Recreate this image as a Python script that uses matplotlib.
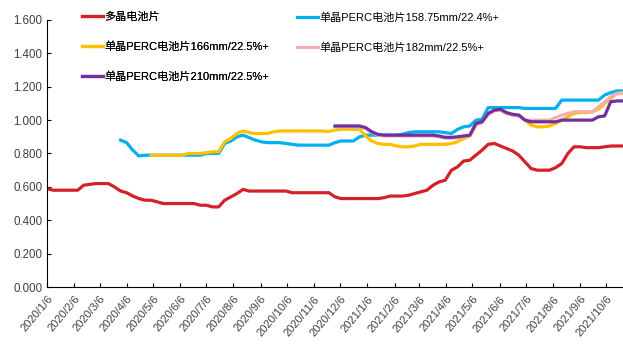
import numpy as np
import pandas as pd
import matplotlib
matplotlib.use("Agg")
import matplotlib.pyplot as plt

plt.rcParams['font.family'] = ['Liberation Sans', 'Noto Sans CJK SC', 'DejaVu Sans']

# weekly dates (95 weeks from 2020/1/6)
dates = pd.date_range('2020-01-06', periods=95, freq='7D')
nan = np.nan

# 多晶电池片
poly = [0.59, 0.58, 0.58, 0.58, 0.58, 0.58, 0.61, 0.615, 0.62, 0.62,
        0.62, 0.60, 0.575, 0.565, 0.545, 0.53, 0.52, 0.52, 0.51, 0.50,
        0.50, 0.50, 0.50, 0.50, 0.50, 0.49, 0.49, 0.48, 0.48, 0.52,
        0.54, 0.56, 0.585, 0.575, 0.575, 0.575, 0.575, 0.575, 0.575, 0.575,
        0.565, 0.565, 0.565, 0.565, 0.565, 0.565, 0.565, 0.54, 0.53, 0.53,
        0.53, 0.53, 0.53, 0.53, 0.53, 0.535, 0.545, 0.545, 0.545, 0.55,
        0.56, 0.57, 0.58, 0.61, 0.63, 0.64, 0.70, 0.72, 0.755, 0.76,
        0.79, 0.82, 0.855, 0.86, 0.845, 0.83, 0.815, 0.79, 0.75, 0.71,
        0.70, 0.70, 0.70, 0.715, 0.74, 0.80, 0.84, 0.84, 0.835, 0.835,
        0.835, 0.84, 0.845, 0.845, 0.845]

# 单晶PERC电池片158.75mm/22.4%+
mono158 = [nan] * 12 + [
        0.88, 0.865, 0.82, 0.785, 0.79, 0.79, 0.79, 0.79, 0.79, 0.79,
        0.79, 0.79, 0.79, 0.79, 0.80, 0.80, 0.80, 0.86, 0.875, 0.90,
        0.91, 0.895, 0.88, 0.87, 0.865, 0.865, 0.865, 0.86, 0.855, 0.85,
        0.85, 0.85, 0.85, 0.85, 0.85, 0.865, 0.875, 0.875, 0.875, 0.90,
        0.91, 0.91, 0.91, 0.91, 0.91, 0.91, 0.915, 0.925, 0.93, 0.93,
        0.93, 0.93, 0.93, 0.925, 0.92, 0.945, 0.96, 0.965, 1.00, 1.005,
        1.075, 1.075, 1.075, 1.075, 1.075, 1.075, 1.07, 1.07, 1.07, 1.07,
        1.07, 1.07, 1.12, 1.12, 1.12, 1.12, 1.12, 1.12, 1.12, 1.15,
        1.165, 1.175, 1.175]

# 单晶PERC电池片166mm/22.5%+
mono166 = [nan] * 17 + [
        0.79, 0.79, 0.79, 0.79, 0.79, 0.79, 0.80, 0.80, 0.80, 0.805,
        0.81, 0.81, 0.87, 0.89, 0.92, 0.935, 0.925, 0.92, 0.92, 0.92,
        0.93, 0.935, 0.935, 0.935, 0.935, 0.935, 0.935, 0.935, 0.935, 0.932,
        0.94, 0.945, 0.945, 0.945, 0.945, 0.905, 0.875, 0.86, 0.855, 0.855,
        0.845, 0.84, 0.84, 0.845, 0.855, 0.855, 0.855, 0.855, 0.855, 0.86,
        0.87, 0.89, 0.905, 0.97, 0.99, 1.04, 1.06, 1.06, 1.04, 1.03,
        1.03, 1.00, 0.97, 0.96, 0.96, 0.965, 0.98, 1.00, 1.02, 1.04,
        1.045, 1.045, 1.05, 1.065, 1.10, 1.13, 1.16, 1.16]

# 单晶PERC电池片182mm/22.5%+
mono182 = [nan] * 47 + [
        0.96, 0.96, 0.96, 0.96, 0.96, 0.95, 0.925, 0.91, 0.905, 0.905,
        0.905, 0.905, 0.905, 0.905, 0.905, 0.905, 0.905, 0.90, 0.892, 0.892,
        0.895, 0.90, 0.905, 0.975, 0.985, 1.035, 1.055, 1.06, 1.04, 1.03,
        1.025, 1.00, 1.00, 1.00, 1.00, 1.00, 1.015, 1.03, 1.04, 1.05,
        1.05, 1.05, 1.05, 1.08, 1.11, 1.14, 1.16, 1.165]

# 单晶PERC电池片210mm/22.5%+
mono210 = [nan] * 47 + [
        0.965, 0.965, 0.965, 0.965, 0.965, 0.955, 0.93, 0.915, 0.91, 0.91,
        0.91, 0.91, 0.91, 0.91, 0.91, 0.91, 0.91, 0.905, 0.897, 0.897,
        0.90, 0.905, 0.91, 0.98, 0.99, 1.04, 1.06, 1.065, 1.045, 1.035,
        1.03, 1.00, 0.99, 0.99, 0.99, 0.99, 0.99, 1.00, 1.00, 1.00,
        1.00, 1.00, 1.00, 1.02, 1.025, 1.11, 1.115, 1.115]

tick_labels = ['2020/1/6', '2020/2/6', '2020/3/6', '2020/4/6', '2020/5/6', '2020/6/6',
               '2020/7/6', '2020/8/6', '2020/9/6', '2020/10/6', '2020/11/6', '2020/12/6',
               '2021/1/6', '2021/2/6', '2021/3/6', '2021/4/6', '2021/5/6', '2021/6/6',
               '2021/7/6', '2021/8/6', '2021/9/6', '2021/10/6']
yticks = [0, 0.2, 0.4, 0.6, 0.8, 1.0, 1.2, 1.4, 1.6]

fig = plt.figure(figsize=(6.23, 3.5), dpi=100)
ax = fig.add_axes([47 / 623, 1 - 287 / 350, 576 / 623, 267 / 350])

lw = 2.3
l_poly, = ax.plot(dates, poly, color='#D42027', lw=lw, label='多晶电池片')
l_158, = ax.plot(dates, mono158, color='#00B0F0', lw=lw, label='单晶PERC电池片158.75mm/22.4%+')
l_166, = ax.plot(dates, mono166, color='#FFC000', lw=lw, label='单晶PERC电池片166mm/22.5%+')
l_182, = ax.plot(dates, mono182, color='#F2AFB2', lw=lw, label='单晶PERC电池片182mm/22.5%+')
l_210, = ax.plot(dates, mono210, color='#7030A0', lw=lw, label='单晶PERC电池片210mm/22.5%+')

ax.set_xlim(dates[0], dates[-1])
ax.set_ylim(0, 1.6)
ax.set_yticks(yticks)
ax.set_yticklabels(['%.3f' % v for v in yticks])
ax.set_xticks(pd.to_datetime(tick_labels, format='%Y/%m/%d'))
ax.set_xticklabels(tick_labels, rotation=50, ha='right', rotation_mode='anchor')
ax.tick_params(direction='in', length=3, width=0.8, labelsize=8.3, colors='black',
               labelcolor='#404040')
ax.tick_params(axis='x', pad=5, labelsize=8)
ax.spines['top'].set_visible(False)
ax.spines['right'].set_visible(False)

leg_kw = dict(frameon=False, fontsize=8, handlelength=1.9, handletextpad=0.1,
              labelspacing=1.75, borderaxespad=0, borderpad=0, loc='upper left')
leg1 = fig.legend(handles=[l_poly, l_166, l_210], bbox_to_anchor=(82 / 623, 1 - 12 / 350), **leg_kw)
fig.add_artist(leg1)
leg2 = fig.legend(handles=[l_158, l_182], bbox_to_anchor=(297 / 623, 1 - 12 / 350), **leg_kw)

fig.savefig('out.png', dpi=100)
